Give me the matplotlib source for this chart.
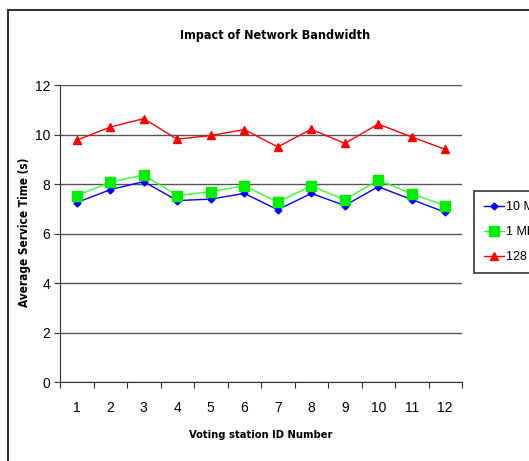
import matplotlib
matplotlib.use("Agg")
import matplotlib.pyplot as plt
from matplotlib.patches import Rectangle

stations = list(range(1, 13))
bw_10m = [7.25, 7.77, 8.10, 7.33, 7.39, 7.62, 6.96, 7.62, 7.13, 7.89, 7.37, 6.86]
bw_1m = [7.53, 8.07, 8.37, 7.53, 7.69, 7.93, 7.27, 7.93, 7.36, 8.16, 7.60, 7.13]
bw_128k = [9.77, 10.30, 10.64, 9.81, 9.96, 10.20, 9.50, 10.21, 9.64, 10.42, 9.90, 9.40]
series_names = ["10 Mbps", "1 Mbps", "128 Kbps"]
y_ticks = [0, 2, 4, 6, 8, 10, 12]

plt.rcParams['font.family'] = ['Liberation Sans', 'DejaVu Sans']
narrow = dict(family=['Liberation Sans Narrow', 'DejaVu Sans'], stretch='condensed')

W, H = 529, 461
fig = plt.figure(figsize=(W / 100, H / 100), dpi=100)
fig.patch.set_facecolor("white")

# chart-area border (runs off the right and bottom edges)
fig.patches.append(Rectangle((8 / W, -0.1), 1.2, 1.1 - 10 / H,
                             transform=fig.transFigure, fill=False,
                             edgecolor="#333333", linewidth=1.5))

# plot area in pixel coordinates
x0, x1 = 60, 462
ytop, ybot = 85, 382
ax = fig.add_axes([x0 / W, 1 - ybot / H, (x1 - x0) / W, (ybot - ytop) / H])
ax.set_facecolor("white")

ax.plot(stations, bw_10m, color="#0000ff", marker="D", markersize=3.5, linewidth=1,
        label=series_names[0])
ax.plot(stations, bw_1m, color="#33ff33", marker="s", markerfacecolor="#00ee00",
        markeredgecolor="#00ee00", markersize=6.5, linewidth=1, label=series_names[1])
ax.plot(stations, bw_128k, color="#ff0000", marker="^", markersize=5.5, linewidth=1,
        label=series_names[2])

ax.set_xlim(0.5, 12.5)
ax.set_ylim(0, 12)
ax.set_yticks(y_ticks)
ax.yaxis.grid(True, color="#555555", linewidth=1)
ax.set_axisbelow(True)

# category ticks at boundaries, labels at centres
ax.set_xticks([i + 0.5 for i in range(0, 13)], minor=False)
ax.set_xticklabels([])
ax.set_xticks(stations, minor=True)
ax.set_xticklabels([str(s) for s in stations], minor=True)
ax.tick_params(axis="x", which="minor", length=0, pad=14, labelsize=10)
ax.tick_params(axis="x", which="major", length=4, direction="out", color="#333333")
ax.tick_params(axis="y", length=4, direction="out", labelsize=10, pad=3, color="#333333")

for side in ("top", "right"):
    ax.spines[side].set_visible(False)
for side in ("left", "bottom"):
    ax.spines[side].set_color("#333333")

fig.text(275 / W, 1 - 36 / H, "Impact of Network Bandwidth", ha="center", va="center",
         fontsize=9, fontweight="bold", **narrow)
fig.text(261 / W, 1 - 435 / H, "Voting station ID Number", ha="center", va="center",
         fontsize=8, fontweight="bold", **narrow)
fig.text(25 / W, 1 - 232 / H, "Average Service Time (s)", ha="center", va="center",
         rotation=90, fontsize=8.5, fontweight="bold", **narrow)

leg = fig.legend(loc="upper left", bbox_to_anchor=(474 / W, 1 - 191 / H),
                 frameon=True, fancybox=False, edgecolor="black", fontsize=9,
                 handlelength=1.6, borderpad=0.8, labelspacing=1.05, handletextpad=0.15,
                 borderaxespad=0.0)
leg.get_frame().set_linewidth(1.2)

fig.savefig("out.png", dpi=100)
